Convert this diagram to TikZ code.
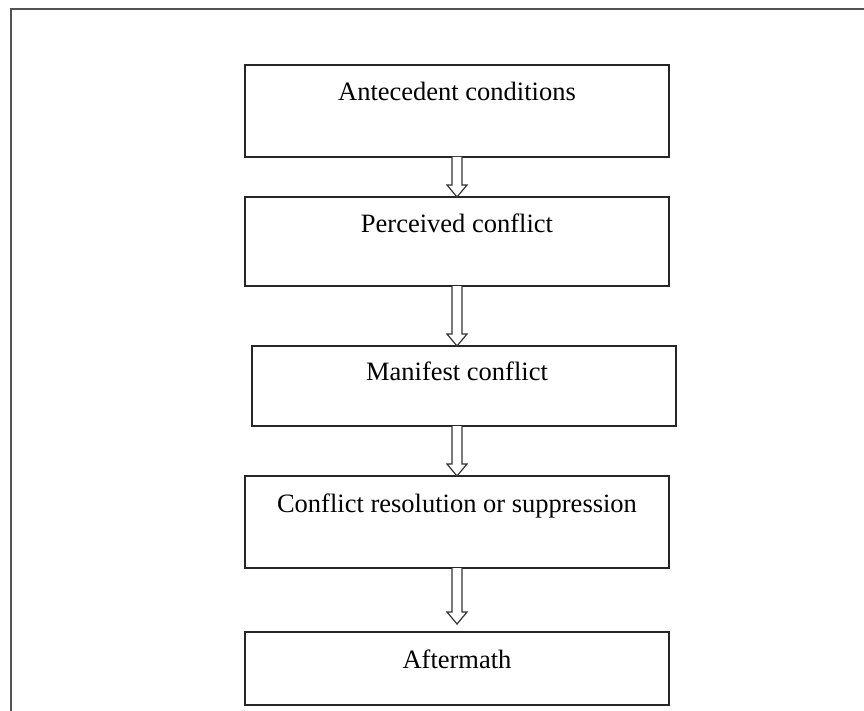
\documentclass[tikz,border=0pt]{standalone}
\usepackage{fontspec}
\setmainfont{Liberation Serif}
\usetikzlibrary{calc}

\tikzset{
  frameline/.style={draw=black!68, line width=2pt},
  stagebox/.style={draw=black!85, line width=1.6pt, rectangle, anchor=north west,
    minimum width=424pt, inner sep=0pt, outer sep=0pt},
  stagetext/.style={anchor=base, inner sep=0pt,
    font=\fontsize{26.5}{30}\selectfont},
  hollow/.style={draw=black!80, line width=1.2pt, fill=white, line join=miter},
}

% hollow block arrow from the bottom of one box down to a tip point
\newcommand\blockarrow[2]{%
  \path[hollow] let \p1=(#1), \p2=(#2) in
    (\x1-5pt,\y1) -- (\x1-5pt,\y2+12pt) -- (\x1-10pt,\y2+12pt) -- (\x1,\y2)
    -- (\x1+10pt,\y2+12pt) -- (\x1+5pt,\y2+12pt) -- (\x1+5pt,\y1);%
}

\begin{document}
\begin{tikzpicture}[x=1pt, y=-1pt]
  \useasboundingbox (0,0) rectangle (864,711);

  % outer frame (open at right and bottom)
  \draw[frameline] (11,711) -- (11,9) -- (864,9);

  % stage boxes
  \node[stagebox, minimum height=92pt] (b1) at (245,65)  {};
  \node[stagebox, minimum height=89pt] (b2) at (245,197) {};
  \node[stagebox, minimum height=80pt] (b3) at (252,346) {};
  \node[stagebox, minimum height=92pt] (b4) at (245,476) {};
  \node[stagebox, minimum height=73pt] (b5) at (245,632) {};

  % stage labels
  \node[stagetext] (t1) at ($(b1.north)+(0,36)$) {Antecedent conditions};
  \node[stagetext] (t2) at ($(b2.north)+(0,36)$) {Perceived conflict};
  \node[stagetext] (t3) at ($(b3.north)+(-7,34)$) {Manifest conflict};
  \node[stagetext] (t4) at ($(b4.north)+(0,36)$) {Conflict resolution or suppression};
  \node[stagetext] (t5) at ($(b5.north)+(0,36)$) {Aftermath};

  % arrow tips
  \coordinate (p1) at (b1.south |- b2.north);
  \coordinate (p2) at (b2.south |- b3.north);
  \coordinate (p3) at (b4.north);
  \coordinate (s3) at (b4.north |- b3.south);
  \coordinate (p4) at ($(b5.north)+(0,-8)$);

  % connectors
  \blockarrow{b1.south}{p1}
  \blockarrow{b2.south}{p2}
  \blockarrow{s3}{p3}
  \blockarrow{b4.south}{p4}
\end{tikzpicture}
\end{document}
